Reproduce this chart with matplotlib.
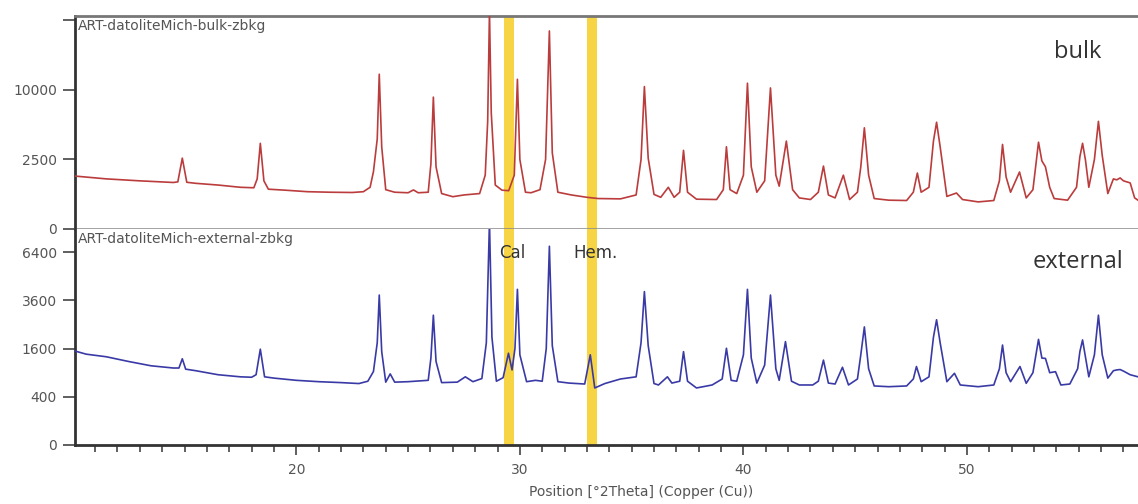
import numpy as np
import matplotlib
matplotlib.use("Agg")
import matplotlib.pyplot as plt

# ---------------- data ----------------
bulk_2theta = [10.1, 11.5, 13.0, 14.5, 14.7, 14.9, 15.1, 15.5, 16.5, 17.5, 18.1, 18.25, 18.39, 18.55,
               18.75, 19.5, 20.5, 21.5, 22.5, 23.0, 23.3, 23.45, 23.62, 23.71, 23.82, 24.0, 24.4, 25.0,
               25.24, 25.45, 25.9, 26.02, 26.13, 26.25, 26.5, 27.0, 27.5, 28.2, 28.45, 28.56, 28.64, 28.72,
               28.9, 29.2, 29.5, 29.75, 29.89, 30.0, 30.25, 30.5, 30.9, 31.15, 31.32, 31.45, 31.7, 32.3,
               33.0, 33.5, 34.5, 35.2, 35.42, 35.57, 35.74, 36.0, 36.3, 36.64, 36.9, 37.15, 37.32, 37.5,
               37.9, 38.8, 39.1, 39.24, 39.4, 39.7, 40.0, 40.18, 40.35, 40.6, 40.95, 41.21, 41.45, 41.6,
               41.92, 42.2, 42.5, 43.0, 43.35, 43.58, 43.8, 44.1, 44.47, 44.75, 45.1, 45.25, 45.41, 45.6,
               45.85, 46.5, 47.3, 47.6, 47.78, 47.95, 48.3, 48.5, 48.64, 48.8, 49.1, 49.53, 49.8, 50.5,
               51.2, 51.45, 51.59, 51.75, 51.95, 52.35, 52.65, 52.95, 53.2, 53.35, 53.51, 53.7, 53.9, 54.5,
               54.9, 55.05, 55.17, 55.3, 55.45, 55.7, 55.88, 56.05, 56.3, 56.55, 56.7, 56.85, 57.0, 57.3,
               57.5, 57.65]
bulk_counts = [1450, 1300, 1200, 1120, 1150, 2600, 1130, 1080, 1000, 900, 880, 1300, 3800, 1200,
               820, 780, 720, 700, 690, 720, 900, 1700, 4200, 12400, 3500, 800, 700, 680,
               790, 680, 700, 2200, 9000, 2000, 650, 540, 600, 650, 1500, 6000, 24500, 7000,
               1000, 780, 760, 1500, 11600, 2500, 700, 680, 800, 2500, 20300, 3000, 700, 600,
               520, 480, 470, 600, 2500, 10500, 2600, 620, 520, 900, 520, 700, 3200, 700,
               460, 450, 800, 3500, 800, 650, 1500, 11000, 2000, 700, 1200, 10300, 1500, 950,
               4000, 800, 500, 450, 700, 2050, 600, 500, 1500, 450, 700, 2000, 5300, 1500,
               480, 430, 420, 700, 1620, 700, 900, 4000, 5900, 3500, 550, 670, 450, 380,
               420, 1200, 3700, 1400, 700, 1680, 500, 800, 3900, 2400, 2000, 900, 480, 430,
               900, 2700, 3800, 2460, 900, 2500, 6000, 2800, 650, 1300, 1250, 1350, 1200, 1100,
               500, 430]

ext_2theta = [10.1, 10.6, 11.5, 12.5, 13.5, 14.5, 14.75, 14.9, 15.05, 15.5, 16.5, 17.5, 18.0, 18.2,
              18.39, 18.58, 19.0, 20.0, 21.0, 22.0, 22.8, 23.2, 23.45, 23.62, 23.71, 23.82, 24.0, 24.2,
              24.4, 25.0, 25.9, 26.02, 26.13, 26.25, 26.5, 27.2, 27.56, 27.9, 28.3, 28.5, 28.64, 28.75,
              28.95, 29.25, 29.49, 29.65, 29.78, 29.89, 30.0, 30.3, 30.7, 31.0, 31.18, 31.32, 31.45, 31.7,
              32.2, 32.9, 33.15, 33.35, 33.8, 34.5, 35.2, 35.42, 35.57, 35.74, 36.0, 36.2, 36.6, 36.8,
              37.15, 37.32, 37.5, 37.9, 38.6, 39.05, 39.24, 39.45, 39.7, 40.0, 40.18, 40.35, 40.6, 40.95,
              41.21, 41.45, 41.6, 41.88, 42.15, 42.5, 43.1, 43.35, 43.58, 43.8, 44.1, 44.43, 44.7, 45.1,
              45.25, 45.41, 45.6, 45.85, 46.5, 47.3, 47.6, 47.74, 47.95, 48.3, 48.5, 48.64, 48.8, 49.1,
              49.44, 49.7, 50.5, 51.2, 51.45, 51.59, 51.75, 51.95, 52.37, 52.65, 52.95, 53.2, 53.35, 53.51,
              53.7, 53.96, 54.2, 54.6, 54.95, 55.05, 55.17, 55.3, 55.45, 55.7, 55.88, 56.05, 56.3, 56.55,
              56.7, 56.85, 57.0, 57.3, 57.65]
ext_counts = [1520, 1420, 1340, 1200, 1080, 1020, 1020, 1280, 990, 950, 850, 800, 790, 850,
              1580, 800, 770, 720, 690, 670, 650, 700, 930, 1800, 3870, 1500, 680, 870,
              680, 690, 720, 1300, 2900, 1200, 670, 680, 800, 690, 760, 1800, 8600, 2000,
              700, 780, 1450, 970, 1600, 4170, 1400, 690, 720, 700, 1600, 6800, 1700, 690,
              660, 640, 1400, 560, 650, 750, 800, 1800, 4050, 1700, 650, 620, 800, 660,
              700, 1500, 700, 560, 620, 750, 1610, 720, 700, 1400, 4170, 1300, 660, 1100,
              3870, 1000, 720, 1840, 700, 620, 620, 700, 1240, 660, 640, 1040, 620, 750,
              1400, 2400, 1000, 600, 585, 600, 750, 1060, 690, 800, 2000, 2700, 1800, 690,
              885, 620, 585, 620, 1000, 1720, 900, 690, 1060, 655, 900, 1920, 1300, 1290,
              900, 925, 620, 640, 1000, 1500, 1900, 1340, 800, 1400, 2900, 1400, 770, 950,
              970, 980, 940, 850, 800]

top_yticks = [0, 2500, 10000, 22500]
top_yticklabels = ["0", "2500", "10000", ""]
bot_yticks = [0, 400, 1600, 3600, 6400]
bot_yticklabels = ["0", "400", "1600", "3600", "6400"]
xticks_major = [20, 30, 40, 50]

bands = [(29.28, 29.74), (33.0, 33.46)]
band_labels = ["Cal", "Hem."]
band_label_x = [29.05, 32.4]

top_title = "ART-datoliteMich-bulk-zbkg"
bot_title = "ART-datoliteMich-external-zbkg"

# ---------------- figure ----------------
plt.rcParams['font.family'] = ['DejaVu Sans']
fig = plt.figure(figsize=(11.38, 5.04), dpi=100)
L, R = 75 / 1138, 1.0
ax1 = fig.add_axes([L, 1 - 229 / 504, R - L, 213 / 504])
ax2 = fig.add_axes([L, 1 - 445 / 504, R - L, 216 / 504], sharex=ax1)

fwd = lambda v: np.sqrt(np.maximum(v, 0))
inv = lambda v: np.square(v)

tick_col = "#555555"
for ax in (ax1, ax2):
    ax.set_yscale('function', functions=(fwd, inv))
    for (a, b) in bands:
        ax.axvspan(a, b, color="#f6d443", lw=0, zorder=1)
    ax.spines['right'].set_visible(False)
    ax.spines['left'].set_color("#333333")
    ax.spines['left'].set_linewidth(2.0)
    ax.tick_params(axis='y', direction='out', length=9, width=1.2, color="#444444",
                   labelcolor=tick_col, labelsize=10, pad=4)

ax1.plot(bulk_2theta, bulk_counts, color="#bb3c3c", lw=1.2, zorder=3)
ax2.plot(ext_2theta, ext_counts, color="#3a3aa6", lw=1.2, zorder=3)

ax1.set_xlim(10.1, 57.65)
ax1.set_ylim(0, 23480)
ax2.set_ylim(0, 8030)

ax1.set_yticks(top_yticks)
ax1.set_yticklabels(top_yticklabels)
ax2.set_yticks(bot_yticks)
ax2.set_yticklabels(bot_yticklabels)

ax1.spines['top'].set_color("#777777")
ax1.spines['top'].set_linewidth(2.0)
ax1.spines['bottom'].set_color("#888888")
ax1.spines['bottom'].set_linewidth(1.8)
ax1.tick_params(axis='x', which='both', bottom=False, labelbottom=False)

ax2.spines['top'].set_visible(False)
ax2.spines['bottom'].set_color("#333333")
ax2.spines['bottom'].set_linewidth(2.0)
ax2.set_xticks(xticks_major)
ax2.set_xticks(np.arange(11, 58, 1), minor=True)
ax2.tick_params(axis='x', which='major', direction='out', length=7, width=1.2, color="#444444",
                labelcolor=tick_col, labelsize=10, pad=6)
ax2.tick_params(axis='x', which='minor', direction='out', length=5, width=1.2, color="#444444")

ax1.text(0.003, 0.985, top_title, transform=ax1.transAxes, ha='left', va='top',
         fontsize=10, color=tick_col)
ax2.text(0.003, 0.985, bot_title, transform=ax2.transAxes, ha='left', va='top',
         fontsize=10, color=tick_col)

ax1.text(0.9436, 0.831, "bulk", transform=ax1.transAxes, ha='center', va='center',
         fontsize=17, color="#333333", family=['Open Sans', 'DejaVu Sans'])
ax2.text(0.9436, 0.847, "external", transform=ax2.transAxes, ha='center', va='center',
         fontsize=17, color="#333333", family=['Open Sans', 'DejaVu Sans'])

for lab, xx in zip(band_labels, band_label_x):
    ax2.text(xx, 0.889, lab, transform=ax2.get_xaxis_transform(), ha='left', va='center',
             fontsize=12, color="#333333", zorder=4)

fig.text(641 / 1138, 1 - 492 / 504, "Position [°2Theta] (Copper (Cu))", ha='center', va='center',
         fontsize=10, color=tick_col)

fig.savefig("out.png", dpi=100)
